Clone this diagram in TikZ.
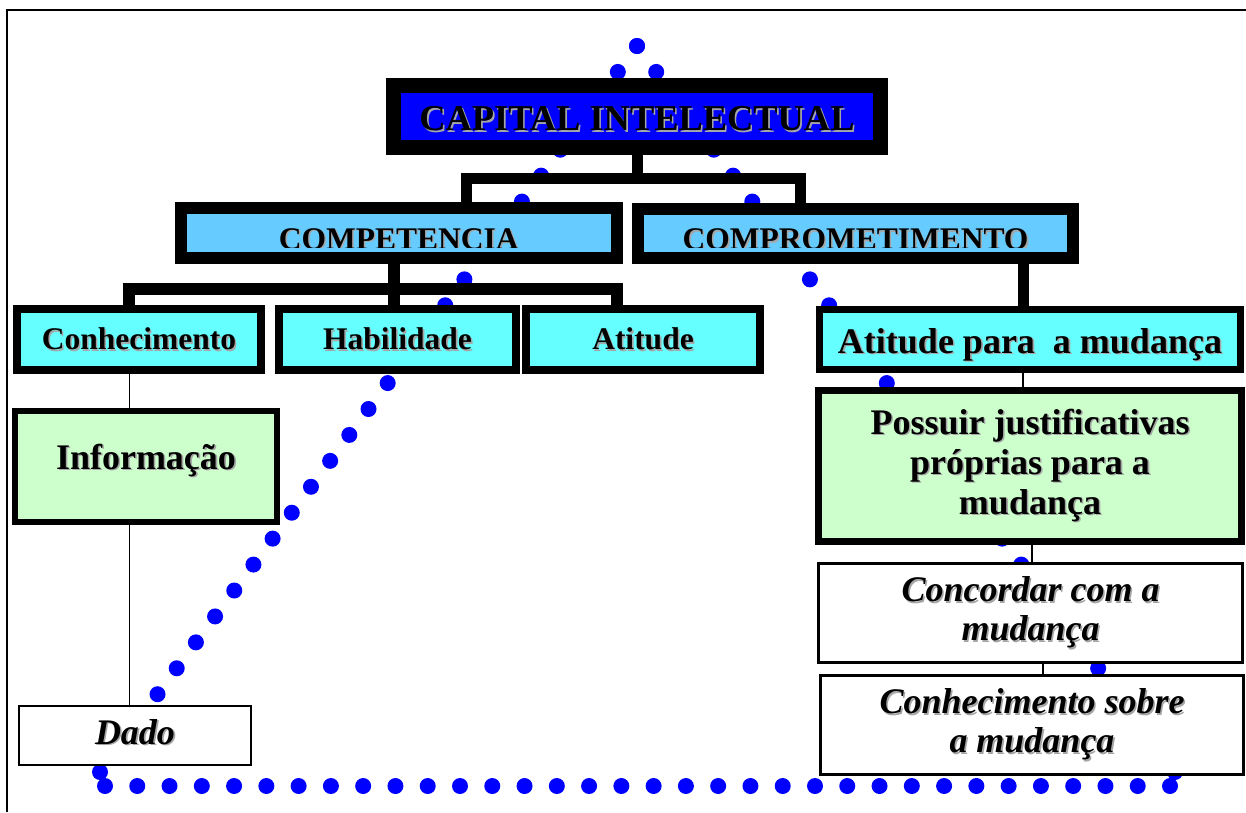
\documentclass[tikz,border=0pt]{standalone}
\usepackage{fontspec}
\setmainfont{Liberation Serif}
\usetikzlibrary{calc}

\definecolor{dotblue}{HTML}{0000FF}
\definecolor{capblue}{HTML}{0000FF}
\definecolor{pillarblue}{HTML}{66CCFF}
\definecolor{leafcyan}{HTML}{66FFFF}
\definecolor{palegreen}{HTML}{CCFFCC}
\definecolor{shadowgrey}{HTML}{A6A6A6}

% text with a soft grey drop shadow
\newcommand\shtext[1]{\makebox[0pt][l]{\kern1.6pt\raisebox{-1.6pt}{\textcolor{shadowgrey}{#1}}}#1}
% single line whose baseline sits #1 pt above the node centre
\newcommand\onbase[2]{\raisebox{#1pt}[0pt][0pt]{\shtext{#2}}}

\begin{document}
\begin{tikzpicture}[x=1pt,y=-1pt,
  box/.style={rectangle, draw=black, inner sep=0pt, outer sep=0pt, line join=miter},
  heavy/.style={box, line width=15pt, fill=capblue},
  pillar/.style={box, line width=12pt, fill=pillarblue},
  leaf/.style={box, line width=8pt, fill=leafcyan},
  greenbox/.style={box, line width=6.5pt, fill=palegreen},
  plainbox/.style={box, line width=2.5pt, fill=white},
  bus/.style={draw=black, line width=12pt, line join=miter},
  link/.style={draw=black, line width=1.6pt},
  dot/.style={fill=dotblue},
  huge/.style={font=\fontsize{36.4}{40}\selectfont\bfseries},
  big/.style={font=\fontsize{36}{40}\selectfont\bfseries},
  bigit/.style={font=\fontsize{36}{39}\selectfont\bfseries\itshape},
  mid/.style={font=\fontsize{31.5}{36}\selectfont\bfseries},
]
\useasboundingbox (0,0) rectangle (1246,812);

% page frame
\draw[line width=1.6pt] (7,812) -- (7,10) -- (1246,10);

% dotted pyramid behind the chart
\coordinate (apex) at (637,46);
\coordinate (lfoot) at (100,772);
\coordinate (rfoot) at (1175,772);
\coordinate (bstart) at (105,786);
\coordinate (bend) at (1170,786);
\foreach \i in {0,...,28} {
  \fill[dot] ($(apex)!\i/28!(lfoot)$) circle[radius=8pt];
  \fill[dot] ($(apex)!\i/28!(rfoot)$) circle[radius=8pt];
}
\foreach \i in {0,...,33}
  \fill[dot] ($(bstart)!\i/33!(bend)$) circle[radius=8pt];

% top
\node[heavy, huge, minimum width=487pt, minimum height=62pt] (cap) at (637,116.5)
  {\onbase{-14}{CAPITAL INTELECTUAL}};

% second level (labels clipped by their frames)
\node[pillar, minimum width=435.5pt, minimum height=50pt] (comp) at (398.75,233) {};
\node[pillar, minimum width=435pt, minimum height=49pt] (compr) at (855.5,233.5) {};
\begin{scope}
  \clip (181,214) rectangle (616,247);
  \node[mid] (comp-label) at (comp.center) {\onbase{-16}{COMPETENCIA}};
\end{scope}
\begin{scope}
  \clip (638,214) rectangle (1073,247);
  \node[mid] (compr-label) at (compr.center) {\onbase{-16}{COMPROMETIMENTO}};
\end{scope}

% third level
\node[leaf, mid, minimum width=244pt, minimum height=61pt] (conh) at (139,339.5)
  {\onbase{-10}{Conhecimento}};
\node[leaf, mid, minimum width=237pt, minimum height=61pt] (habil) at (397.5,339.5)
  {\onbase{-10}{Habilidade}};
\node[leaf, mid, minimum width=234pt, minimum height=61pt] (atit) at (643,339.5)
  {\onbase{-10}{Atitude}};
\node[leaf, big, line width=7pt, minimum width=421pt, minimum height=60pt] (atmud) at (1030,339.5)
  {\onbase{-13.5}{Atitude para~ a mudança}};

% lower boxes
\node[greenbox, big, minimum width=262pt, minimum height=111pt] (info) at (146,466.5)
  {\onbase{-2.5}{Informação}};
\node[plainbox, bigit, minimum width=232pt, minimum height=59pt] (dado) at (135,735.5)
  {\onbase{-8.5}{Dado}};
\node[greenbox, big, align=center, minimum width=423pt, minimum height=151pt] (poss) at (1030,466)
  {\shtext{Possuir justificativas}\\\shtext{próprias para a}\\\shtext{mudança}};
\node[plainbox, bigit, align=center, minimum width=424pt, minimum height=99pt] (conc) at (1030.5,613)
  {\shtext{Concordar com a}\\\shtext{mudança}};
\node[plainbox, bigit, align=center, minimum width=423pt, minimum height=99pt] (csob) at (1032,725)
  {\shtext{Conhecimento sobre}\\\shtext{a mudança}};

% heavy connectors
\coordinate (capjoint) at (637,178);
\coordinate (busL) at (466,178);
\coordinate (busR) at (800,178);
\draw[bus, line width=11pt] (cap.south) -- (capjoint);
\draw[bus, line width=11pt] (comp.north -| busL) -- (busL) -- (busR) -- (compr.north -| busR);

\coordinate (compjoint) at (394,289);
\coordinate (leafL) at (129,289);
\coordinate (leafR) at (617,289);
\draw[bus] (comp.south -| compjoint) -- (habil.north -| compjoint);
\draw[bus] (conh.north -| leafL) -- (leafL) -- (leafR) -- (atit.north -| leafR);

\coordinate (comprdrop) at (1023,300);
\draw[bus, line width=11pt] (compr.south -| comprdrop) -- (atmud.north -| comprdrop);

% thin connectors
\coordinate (infoline) at (129.5,400);
\coordinate (mudline) at (1032,550);
\coordinate (sobline) at (1043,670);
\draw[link] (conh.south -| infoline) -- (info.north -| infoline);
\draw[link] (info.south -| infoline) -- (dado.north -| infoline);
\draw[link] (atmud.south -| comprdrop) -- (poss.north -| comprdrop);
\draw[link] (poss.south -| mudline) -- (conc.north -| mudline);
\draw[link] (conc.south -| sobline) -- (csob.north -| sobline);
\end{tikzpicture}
\end{document}
